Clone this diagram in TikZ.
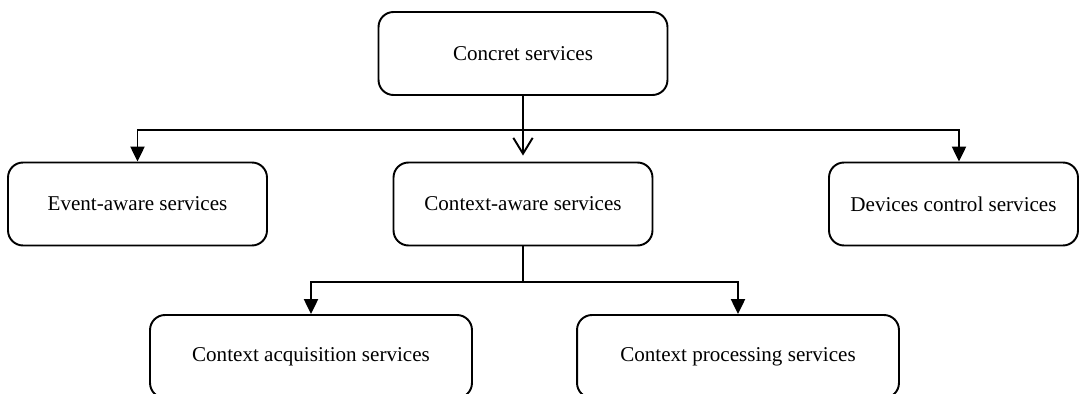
\documentclass[tikz,border=0pt]{standalone}
\usepackage{fontspec}
\setmainfont{Liberation Serif}
\usetikzlibrary{arrows.meta}

\begin{document}
\begin{tikzpicture}[x=0.02cm,y=-0.02cm,line width=1.1pt,
  svc/.style={draw,rounded corners=0.3cm,minimum height=1.66cm,inner sep=0pt,font=\fontsize{12}{14}\selectfont},
  solidtip/.style={-{Triangle[length=8.5pt,width=8pt]}},
  opentip/.style={-{Straight Barb[length=9pt,width=11pt]}}]
 \useasboundingbox (0,0) rectangle (1080,394);
 % boxes
 \node[svc,minimum width=5.78cm](concret)at(523,53.5){Concret services};
 \node[svc,minimum width=5.18cm](event)at(137.5,204){Event-aware services};
 \node[svc,minimum width=5.18cm](ctxaware)at(523,204){Context-aware services};
 \node[svc,minimum width=4.98cm](devices)at(953.5,204){Devices control services};
 \node[svc,minimum width=6.44cm](acquis)at(311,356.5){Context acquisition services};
 \node[svc,minimum width=6.44cm](process)at(738,356.5){Context processing services};
 % first level
 \coordinate(bus1)at(concret.south |- 0,130);
 \draw[opentip,shorten >=0.12cm](concret.south)--(concret.south |- ctxaware.north);
 \draw[solidtip](bus1)-|(event.north);
 \draw[solidtip](bus1)-|([xshift=0.11cm]devices.north);
 % second level
 \coordinate(bus2)at(ctxaware.south |- 0,282);
 \draw(ctxaware.south)--(bus2);
 \draw[solidtip](bus2)-|(acquis.north);
 \draw[solidtip](bus2)-|(process.north);
\end{tikzpicture}
\end{document}
